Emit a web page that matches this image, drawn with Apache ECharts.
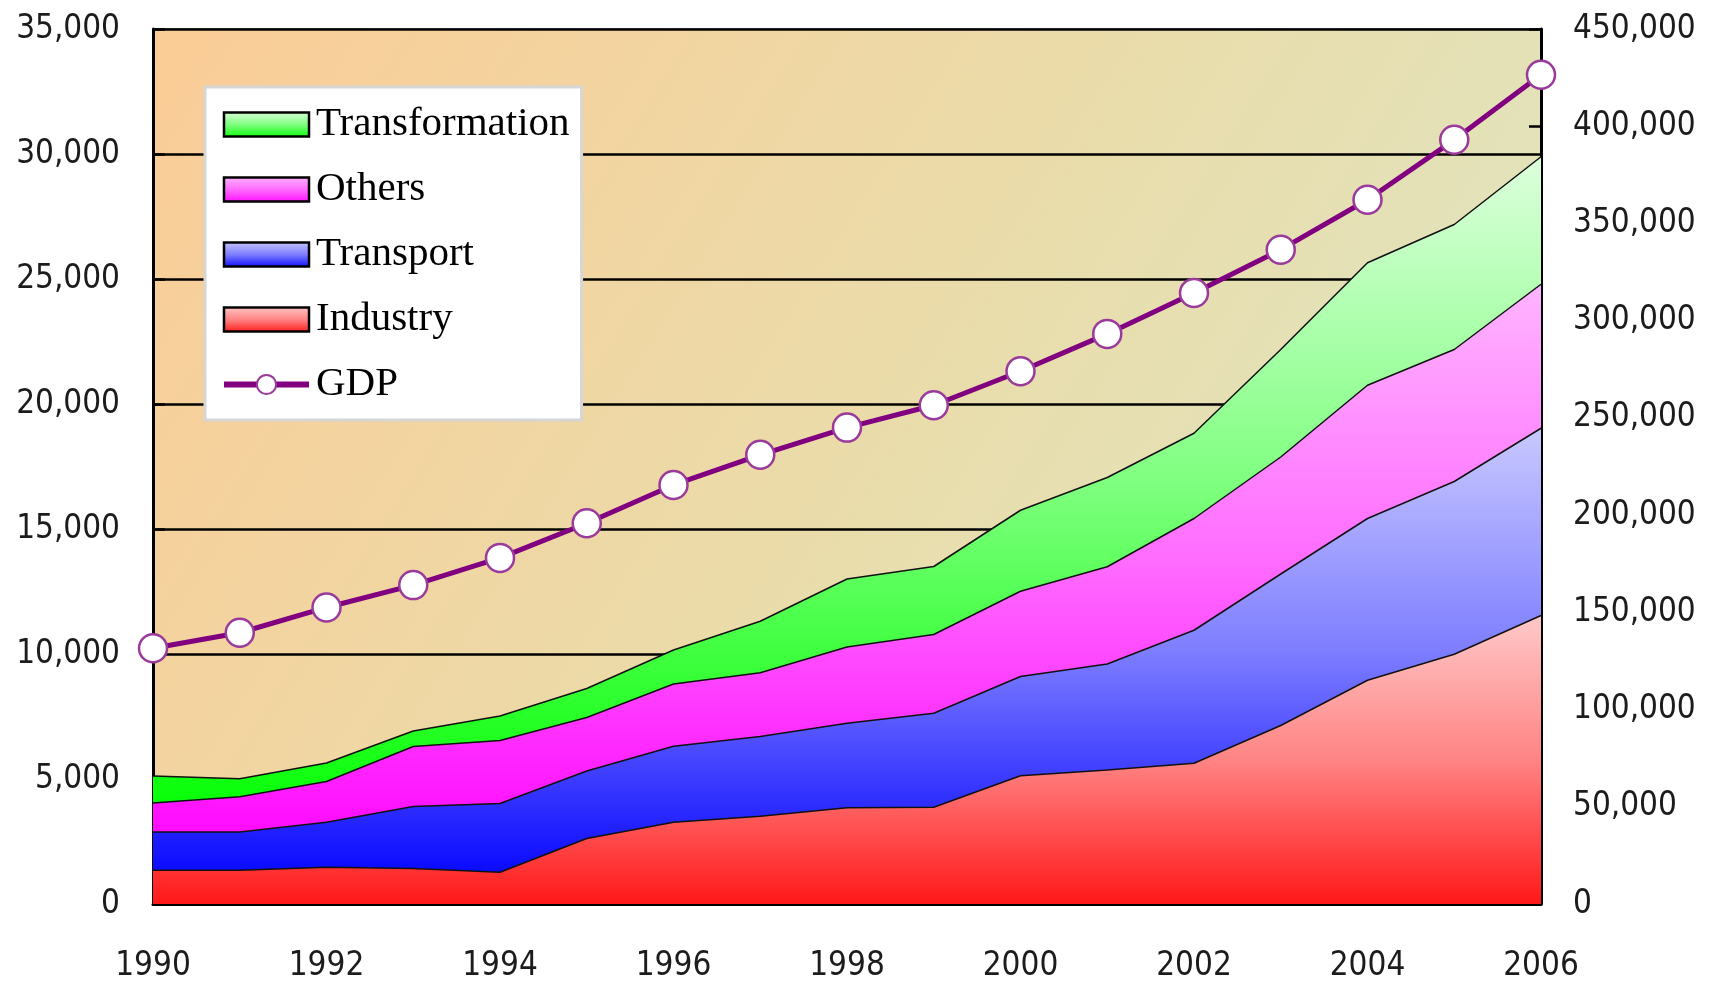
<!DOCTYPE html>
<html>
<head>
<meta charset="utf-8">
<script src="https://cdn.jsdelivr.net/npm/echarts@6/dist/echarts.min.js"></script>
<style>
  html, body { margin: 0; padding: 0; background: #fff; }
  #main { width: 1712px; height: 983px; }
</style>
</head>
<body>
<div id="main"></div>
<script>
// 数据
var years = ['1990','1991','1992','1993','1994','1995','1996','1997','1998','1999','2000','2001','2002','2003','2004','2005','2006'];
var industry = [1350, 1350, 1470, 1420, 1270, 2620, 3270, 3510, 3850, 3870, 5130, 5360, 5630, 7140, 8950, 9990, 11540];
var transport = [1530, 1530, 1800, 2480, 2750, 2700, 3040, 3190, 3380, 3760, 3970, 4240, 5320, 6060, 6470, 6910, 7490];
var others = [1160, 1410, 1630, 2400, 2520, 2140, 2490, 2550, 3050, 3150, 3410, 3890, 4470, 4680, 5330, 5280, 5760];
var transformation = [1080, 720, 740, 620, 980, 1160, 1360, 2060, 2720, 2720, 3240, 3570, 3410, 4300, 4900, 5000, 5100];
var gdp = [131500, 139500, 152500, 164000, 178000, 195800, 215500, 231000, 245000, 256500, 274000, 293200, 314200, 336500, 362200, 393000, 426500];

var leftTicks = { min: 0, max: 35000, interval: 5000 };
var rightTicks = { min: 0, max: 450000, interval: 50000 };

var axisFont = "'DejaVu Sans Condensed', 'DejaVu Sans', sans-serif";
var legendFont = "'Liberation Serif', serif";

function grad(top, mid, bottom) {
  return new echarts.graphic.LinearGradient(0, 0, 0, 1, [
    { offset: 0, color: top },
    { offset: 0.5, color: mid },
    { offset: 1, color: bottom }
  ]);
}
function fmt(v) {
  return Number(v).toLocaleString('en-US');
}

var colors = {
  Industry: grad('#ffc8c8', '#ff8484', '#ff1818'),
  Transport: grad('#c8c8ff', '#7e7eff', '#0a0aff'),
  Others: grad('#ffb4ff', '#ff6cff', '#ff0cff'),
  Transformation: grad('#dcffdc', '#80ff80', '#08ff08')
};

function areaSeries(name, data) {
  return {
    name: name,
    type: 'line',
    stack: 'total',
    data: data,
    showSymbol: false,
    symbol: 'none',
    lineStyle: { color: '#111', width: 1.5 },
    itemStyle: { color: colors[name] },
    areaStyle: { color: colors[name], opacity: 1 },
    emphasis: { disabled: true },
    z: 2
  };
}

function swatch(name) {
  return { name: name, icon: 'rect', itemStyle: { color: colors[name], borderColor: '#000', borderWidth: 2.5 } };
}

var chart = echarts.init(document.getElementById('main'));

var option = {
  animation: false,
  backgroundColor: '#fff',
  grid: {
    left: 153,
    right: 171,
    top: 29,
    bottom: 77,
    show: true,
    borderColor: '#808080',
    borderWidth: 2,
    backgroundColor: new echarts.graphic.LinearGradient(0, 0, 1, 1, [
      { offset: 0, color: '#fbcc96' },
      { offset: 0.5, color: '#eadcaa' },
      { offset: 1, color: '#dce8c8' }
    ])
  },
  legend: {
    orient: 'vertical',
    left: 205,
    top: 87,
    backgroundColor: '#fff',
    borderColor: '#d6d6d6',
    borderWidth: 3,
    padding: [17, 12, 15, 16],
    itemGap: 24,
    itemWidth: 85,
    itemHeight: 24,
    selectedMode: false,
    textStyle: { fontFamily: legendFont, fontSize: 41, color: '#000', padding: [0, 0, 0, 2] },
    data: [
      swatch('Transformation'),
      swatch('Others'),
      swatch('Transport'),
      swatch('Industry'),
      { name: 'GDP', lineStyle: { color: '#800080', width: 6 } }
    ]
  },
  xAxis: {
    type: 'category',
    data: years,
    boundaryGap: false,
    axisLine: { lineStyle: { color: '#000', width: 3 } },
    axisTick: { inside: true, length: 12, interval: 0, lineStyle: { color: '#000', width: 2.5 } },
    axisLabel: { interval: 1, margin: 46, fontFamily: axisFont, fontSize: 33, color: '#1c1c1c' },
    splitLine: { show: false }
  },
  yAxis: [
    {
      type: 'value',
      min: leftTicks.min,
      max: leftTicks.max,
      interval: leftTicks.interval,
      position: 'left',
      axisLine: { show: true, lineStyle: { color: '#000', width: 3 } },
      axisTick: { show: true, inside: true, length: 12, lineStyle: { color: '#000', width: 2.5 } },
      axisLabel: { margin: 33, fontFamily: axisFont, fontSize: 33, color: '#1c1c1c', formatter: fmt },
      splitLine: { show: true, lineStyle: { color: '#000', width: 2.5 } }
    },
    {
      type: 'value',
      min: rightTicks.min,
      max: rightTicks.max,
      interval: rightTicks.interval,
      position: 'right',
      axisLine: { show: true, lineStyle: { color: '#000', width: 3 } },
      axisTick: { show: true, inside: true, length: 12, lineStyle: { color: '#000', width: 2.5 } },
      axisLabel: { margin: 32, fontFamily: axisFont, fontSize: 33, color: '#1c1c1c', formatter: fmt },
      splitLine: { show: false }
    }
  ],
  series: [
    areaSeries('Industry', industry),
    areaSeries('Transport', transport),
    areaSeries('Others', others),
    areaSeries('Transformation', transformation),
    {
      name: 'GDP',
      type: 'line',
      yAxisIndex: 1,
      data: gdp,
      symbol: 'circle',
      symbolSize: 28,
      showSymbol: true,
      lineStyle: { color: '#800080', width: 5 },
      itemStyle: { color: '#fff', borderColor: '#9a3a9a', borderWidth: 2.5 },
      emphasis: { disabled: true },
      z: 5
    }
  ]
};

chart.setOption(option);
</script>
</body>
</html>
